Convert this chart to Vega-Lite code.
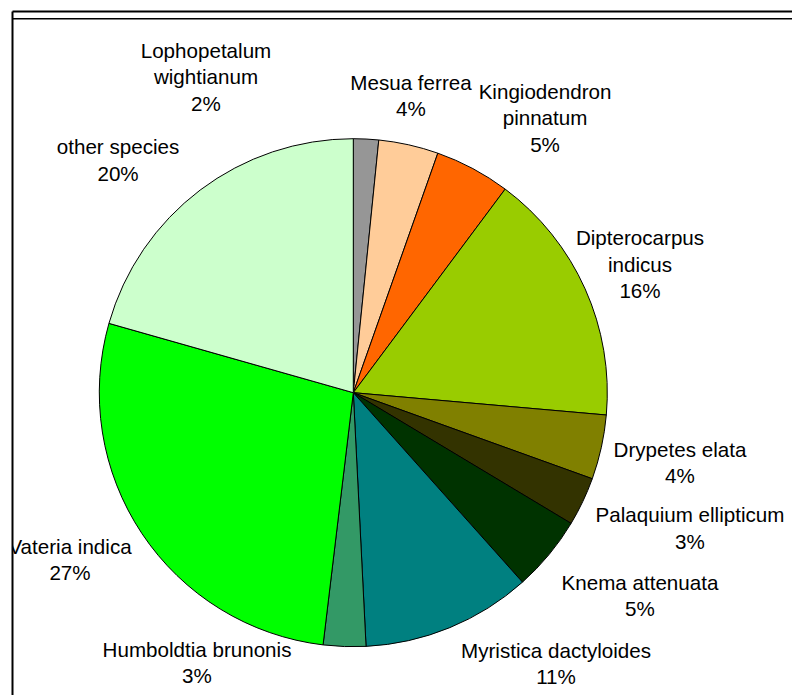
{
  "$schema": "https://vega.github.io/schema/vega-lite/v6.json",
  "width": 780,
  "height": 684,
  "autosize": "none",
  "padding": {"left": 12, "top": 11, "right": 0, "bottom": 0},
  "background": "white",
  "config": {
    "view": {"stroke": null},
    "text": {"font": "Liberation Sans", "fontSize": 20.6, "lineHeight": 26.5, "lineBreak": "\n", "align": "center", "baseline": "middle", "color": "#000000"}
  },
  "data": {
    "values": [
      {"rank": 1, "species": "Lophopetalum wightianum", "value": 1.6, "label": "Lophopetalum\nwightianum\n2%"},
      {"rank": 2, "species": "Mesua ferrea", "value": 3.8, "label": "Mesua ferrea\n4%"},
      {"rank": 3, "species": "Kingiodendron pinnatum", "value": 4.8, "label": "Kingiodendron\npinnatum\n5%"},
      {"rank": 4, "species": "Dipterocarpus indicus", "value": 16.2, "label": "Dipterocarpus\nindicus\n16%"},
      {"rank": 5, "species": "Drypetes elata", "value": 4.1, "label": "Drypetes elata\n4%"},
      {"rank": 6, "species": "Palaquium ellipticum", "value": 3.1, "label": "Palaquium ellipticum\n3%"},
      {"rank": 7, "species": "Knema attenuata", "value": 4.8, "label": "Knema attenuata\n5%"},
      {"rank": 8, "species": "Myristica dactyloides", "value": 10.8, "label": "Myristica dactyloides\n11%"},
      {"rank": 9, "species": "Humboldtia brunonis", "value": 2.7, "label": "Humboldtia brunonis\n3%"},
      {"rank": 10, "species": "Vateria indica", "value": 27.5, "label": "Vateria indica\n27%"},
      {"rank": 11, "species": "other species", "value": 20.6, "label": "other species\n20%"}
    ]
  },
  "layer": [
    {
      "encoding": {
        "theta": {"field": "value", "type": "quantitative", "stack": true},
        "order": {"field": "rank", "type": "quantitative"},
        "x": {"datum": 0, "type": "quantitative", "scale": {"domain": [-341.3, 438.7], "nice": false, "zero": false}, "axis": {"orient": "top", "domain": true, "domainColor": "#000000", "domainWidth": 2, "ticks": false, "labels": false, "grid": false, "title": null}},
        "y": {"datum": 0, "type": "quantitative", "scale": {"domain": [-302.3, 381.7], "nice": false, "zero": false}, "axis": {"orient": "left", "domain": true, "domainColor": "#000000", "domainWidth": 2, "ticks": false, "labels": false, "grid": false, "title": null}}
      },
      "layer": [
        {
          "mark": {"type": "arc", "outerRadius": 254, "stroke": "#000000", "strokeWidth": 1},
          "encoding": {
            "color": {
              "field": "species", "type": "nominal", "legend": null,
              "scale": {
                "domain": ["Lophopetalum wightianum", "Mesua ferrea", "Kingiodendron pinnatum", "Dipterocarpus indicus", "Drypetes elata", "Palaquium ellipticum", "Knema attenuata", "Myristica dactyloides", "Humboldtia brunonis", "Vateria indica", "other species"],
                "range": ["#969696", "#FFCC99", "#FF6600", "#99CC00", "#808000", "#333300", "#003300", "#008080", "#339966", "#00FF00", "#CCFFCC"]
              }
            }
          }
        },
        {"mark": {"type": "text", "radius": 330, "dx": -163.9, "dy": -11.5}, "encoding": {"text": {"condition": {"test": "datum.species === 'Lophopetalum wightianum'", "field": "label"}, "value": ""}}},
        {"mark": {"type": "text", "radius": 330, "dx": -14.3, "dy": 13}, "encoding": {"text": {"condition": {"test": "datum.species === 'Mesua ferrea'", "field": "label"}, "value": ""}}},
        {"mark": {"type": "text", "radius": 330, "dx": 36.4, "dy": -9}, "encoding": {"text": {"condition": {"test": "datum.species === 'Kingiodendron pinnatum'", "field": "label"}, "value": ""}}},
        {"mark": {"type": "text", "radius": 330, "dx": -14.5, "dy": -18.4}, "encoding": {"text": {"condition": {"test": "datum.species === 'Dipterocarpus indicus'", "field": "label"}, "value": ""}}},
        {"mark": {"type": "text", "radius": 330, "dx": 4.4, "dy": -12.85}, "encoding": {"text": {"condition": {"test": "datum.species === 'Drypetes elata'", "field": "label"}, "value": ""}}},
        {"mark": {"type": "text", "radius": 330, "dx": 38.5, "dy": -17.85}, "encoding": {"text": {"condition": {"test": "datum.species === 'Palaquium ellipticum'", "field": "label"}, "value": ""}}},
        {"mark": {"type": "text", "radius": 330, "dx": 32.4, "dy": -19.25}, "encoding": {"text": {"condition": {"test": "datum.species === 'Knema attenuata'", "field": "label"}, "value": ""}}},
        {"mark": {"type": "text", "radius": 330, "dx": 77.4, "dy": -46.25}, "encoding": {"text": {"condition": {"test": "datum.species === 'Myristica dactyloides'", "field": "label"}, "value": ""}}},
        {"mark": {"type": "text", "radius": 330, "dx": -144.9, "dy": -71.75}, "encoding": {"text": {"condition": {"test": "datum.species === 'Humboldtia brunonis'", "field": "label"}, "value": ""}}},
        {"mark": {"type": "text", "radius": 330, "dx": -8.6, "dy": -27.85, "clip": true}, "encoding": {"text": {"condition": {"test": "datum.species === 'Vateria indica'", "field": "label"}, "value": ""}}},
        {"mark": {"type": "text", "radius": 330, "dx": -36.3, "dy": 18.75}, "encoding": {"text": {"condition": {"test": "datum.species === 'other species'", "field": "label"}, "value": ""}}}
      ]
    },
    {
      "data": {"values": [{}]},
      "mark": {"type": "rule", "color": "#000000", "strokeWidth": 1.5},
      "encoding": {
        "y": {"datum": 374, "type": "quantitative", "scale": {"domain": [-302.3, 381.7], "nice": false, "zero": false}, "axis": {"orient": "left", "domain": true, "domainColor": "#000000", "domainWidth": 2, "ticks": false, "labels": false, "grid": false, "title": null}}
      }
    }
  ]
}
